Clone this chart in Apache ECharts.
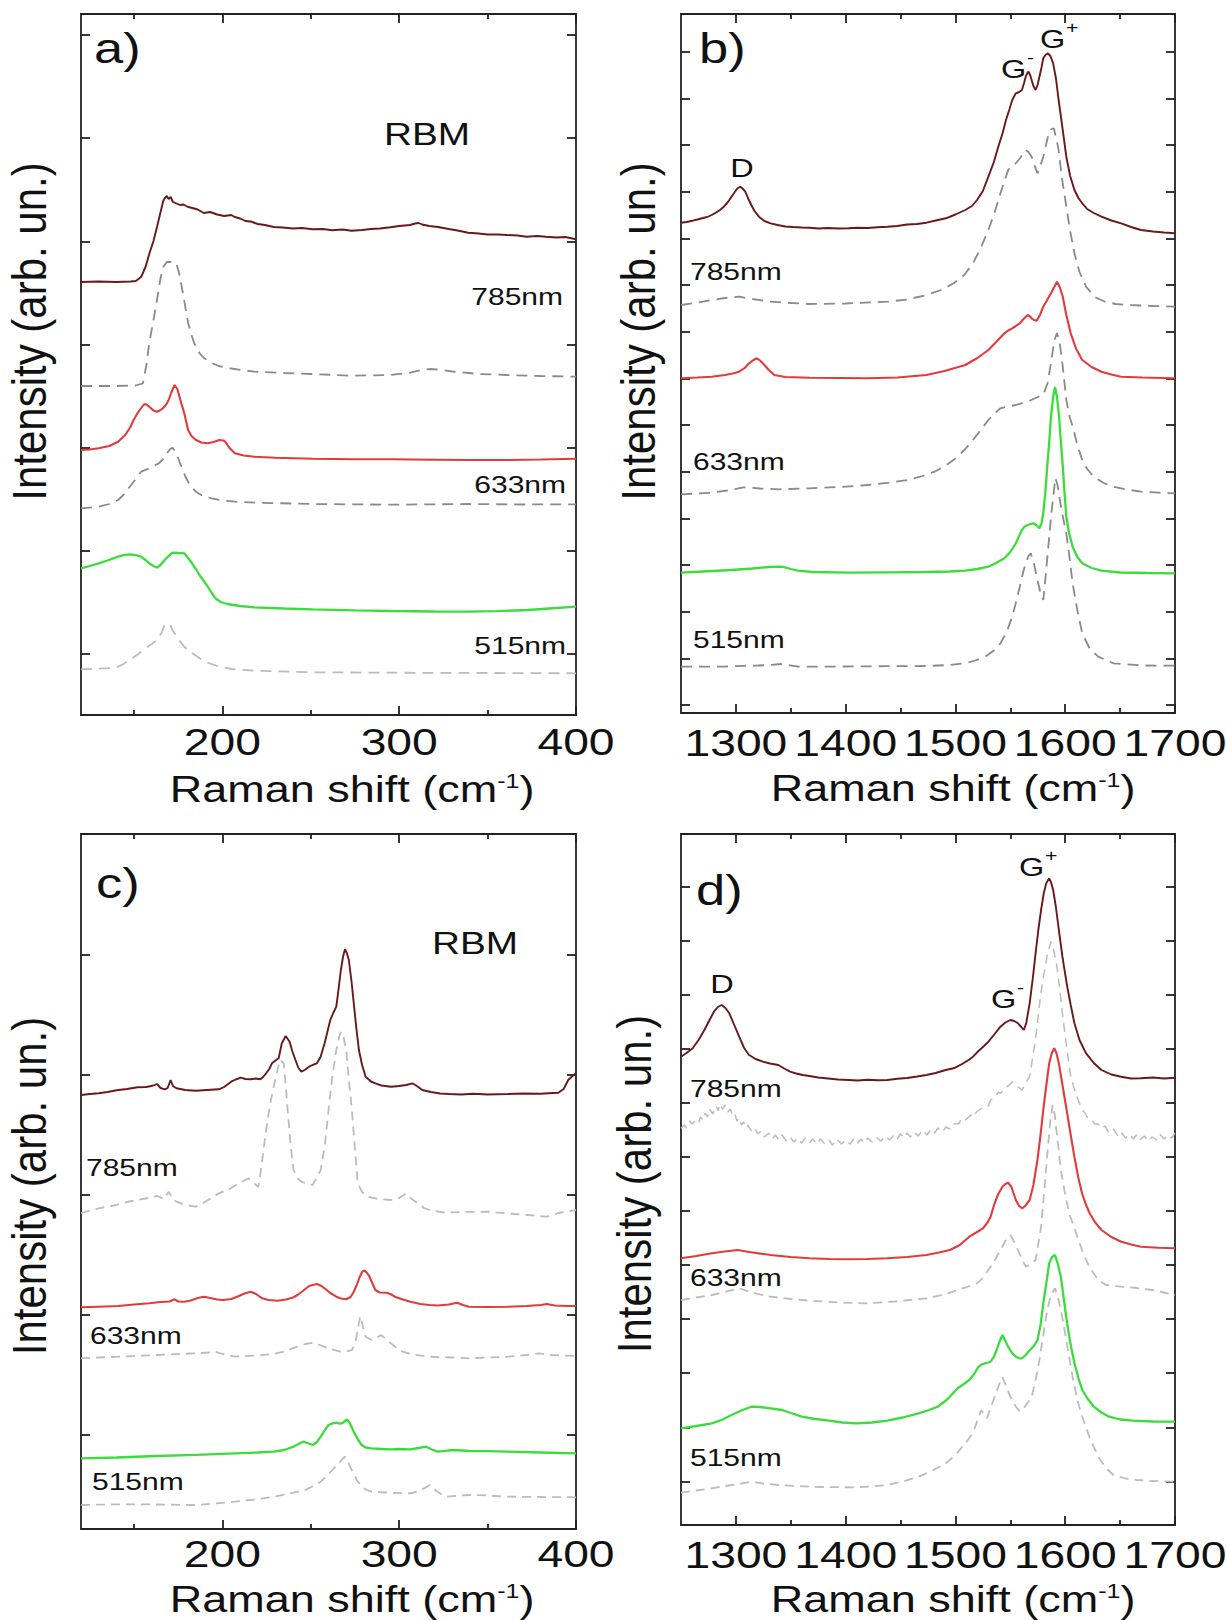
<!DOCTYPE html>
<html><head><meta charset="utf-8">
<script src="https://cdn.jsdelivr.net/npm/echarts@6/dist/echarts.min.js"></script>
<style>html,body{margin:0;padding:0;background:#fff}#c{width:1226px;height:1620px}</style>
</head><body><div id="c"></div>
<script>
// ---------- tick values ----------
const xMajorRBM = [200, 300, 400];
const xMinorRBM = [150, 250, 350];
const xMajorG = [1300, 1400, 1500, 1600, 1700];
const xMinorG = [1350, 1450, 1550, 1650];
const yTicksA = [61, 164, 267, 370, 473, 577, 680];
const yTicksB = [8, 54.7, 101.3, 148, 194.7, 241.3, 288, 334.7, 381.3, 428, 474.7, 521.3, 568, 614.7, 661.3];
const yTicksC = [94, 214, 334, 454, 574];
const yTicksD = [43, 97, 152, 206, 260, 314, 368, 422, 476, 530, 584, 638.3];

// ---------- panel a (RBM) ----------
const a785 = [[120,433],[130,433.5],[140,433],[148,433.5],[151,434],[154,438],[156.5,448],[158.6,461],[161,474],[163,488],[165,503],[166.5,514],[167.5,517],[168.5,519],[169.5,516],[170.7,518],[172,513],[174,511.5],[176,510],[178,510.5],[180.6,508],[183,507],[186,505.5],[189.5,502],[193,503],[197,500.5],[201,499],[205,500],[207,498],[210,496.5],[213,494],[216,493.5],[220,491],[224,490],[229,488],[234,487.5],[240,486.5],[245,487],[251,485.7],[257,486],[262,484.8],[268,485.5],[273,484.3],[279,485],[284,486],[289,486.5],[295,487.7],[300,489],[306,490],[309,491.5],[311,492],[313,490.5],[317,489],[322,488],[328,486],[333,484.5],[339,482.3],[345,481.5],[350,480.5],[356,480.5],[361,480],[367,479.5],[372,478.3],[378,479],[383,478.3],[389,477.5],[394,478],[398,476.5],[400,475.7]];
const a785ref = [[120,329],[140,329],[151,329.5],[155,331.7],[157,350],[158.6,372],[161,395],[163,415],[165,437],[166.5,448],[168.5,453],[171,453],[174,451.7],[175.7,440],[177.3,425],[179,408],[180.6,392],[182.5,380],[184,372],[187,362],[189.5,357],[194,352],[198,349],[205,346.5],[218,343.3],[235,342],[251,341],[273,339.3],[295,340],[305,342],[312.6,345],[318,346],[324,345],[330,343.5],[335,342.7],[345,341],[361,340],[380,339],[400,338.3]];
const a633 = [[120,265],[125,265.5],[130,266.7],[136,269],[141,273.3],[145,280],[147.6,287],[149.8,295],[152,302],[155.3,310],[156.5,311],[158.6,308.3],[161,304.5],[163,303.3],[164.5,304.5],[166.3,306.7],[168,310],[169.6,315],[171,322],[172.9,330],[174.5,326],[176.2,315],[178.4,301.7],[180.6,285],[182.5,279],[185,275],[188,272.5],[191.7,271.7],[195,273],[198.3,275],[200.5,274.5],[201.6,273.3],[204,267],[207,261.7],[212,259.5],[218,258.3],[230,257.2],[251,256.3],[275,255.7],[295,255.7],[320,255.3],[340,255],[361,255],[380,255.5],[400,256.3]];
const a633ref = [[120,206.7],[130,208.3],[136,211],[141,215],[144,220],[147.6,228.3],[151,236],[154,243.3],[158.6,246.7],[161,249],[164,251.7],[166,255],[168.5,261.7],[170.5,266],[171.8,267.3],[173.5,263],[175,256.7],[177,247],[179.5,236.7],[182,229],[185,223.3],[189,219],[193.9,216.7],[200,214.5],[207,213.3],[220,212.3],[251,211],[295,210.3],[339,211],[370,210.5],[400,210.7]];
const a515 = [[120,146.7],[125,149],[130,151.7],[135,154.5],[141,158.3],[144,159.8],[147.6,160.7],[151,159.8],[154,158.3],[156.5,155],[158.6,151.7],[161,149],[163,147.3],[165,150],[167.4,155],[169.5,159],[171.8,162.3],[175,162],[178.4,161.7],[180.6,157],[182.8,151.7],[185,146],[187,140],[189.5,134],[191.7,128.3],[194,122],[196,116.7],[199,113],[202.7,111],[210,109],[218,107.7],[235,106.5],[251,105.7],[275,104.7],[295,104],[320,103.5],[339,103.3],[355,103.8],[372.5,105],[385,106.5],[400,108.3]];
const a515ref = [[120,45.7],[135,46.8],[141,48.3],[144,51],[147.6,55],[152,60.5],[156.4,66.7],[160,71],[163,75],[165.5,82],[167.4,90],[169,91.7],[170.5,90],[171.8,85],[175,76],[178.4,68.3],[182,63],[187,56.7],[192,52],[198.3,48.3],[205,46],[218,44.3],[251,42.7],[295,42.3],[350,42],[400,41.7]];

// ---------- panel b (D/G) ----------
const b785 = [[1250,490.3],[1255,491],[1260.6,492.3],[1265,493.5],[1270,495],[1274,496],[1278,498],[1282,500.5],[1285.5,503],[1289,506.3],[1292,510],[1294,513],[1296,516.3],[1299,521],[1301.5,524.7],[1304,526.3],[1306,524.5],[1308.6,521.3],[1311,515],[1314,508],[1317,502],[1321,496.3],[1326,492],[1331.6,489.7],[1338,488],[1345,486.5],[1352,486],[1360,485.5],[1367,485.3],[1375,484.5],[1384,485],[1393,484.5],[1402.6,484.7],[1411,485.2],[1420,485],[1429,485.8],[1438,486.3],[1447,487],[1456,488.5],[1465,489],[1473.6,490.3],[1482,492.5],[1491.3,494.7],[1500,498.5],[1509,503],[1515,507],[1519.7,513],[1525,522],[1530,536.3],[1535,551],[1539,566.3],[1543,580],[1546,593],[1549,603],[1551.7,613],[1555,619.7],[1558,621],[1560.6,623],[1562.5,630],[1564,636.3],[1565.5,640],[1566.6,641.3],[1568,638],[1569.4,633],[1571,627],[1573,623],[1574.8,628],[1576.5,636.3],[1578.5,646],[1580,654.7],[1582,658],[1584.3,659.7],[1586.5,657],[1589,649.7],[1591.5,635],[1594,613],[1597.5,585],[1601,556.3],[1604.5,537],[1608.4,523],[1612,515],[1615.5,509.7],[1620,504],[1626,500],[1633,496.3],[1642,492.5],[1651,489.7],[1660,486],[1669,483],[1680,481.5],[1690,480.5],[1700,479.7]];
const b785ref = [[1250,408],[1265,410.5],[1278,413],[1290,415],[1303,416.3],[1315,414],[1331.6,411.3],[1350,410],[1367,409],[1400,409.5],[1438,411.3],[1456,413.5],[1473.6,418],[1487,423],[1498.4,429.7],[1508,438],[1516,449.7],[1523,465],[1530,483],[1535.5,500],[1541,519.7],[1545,533],[1548,543],[1551,547],[1555,549.7],[1559,555],[1564,563],[1566.5,561],[1569.4,556.3],[1572,548],[1574.7,539.7],[1577,546],[1580,556.3],[1582.5,568],[1585,579.7],[1587.5,584],[1589.6,584.7],[1592,574],[1594,563],[1597,535],[1601,506.3],[1604.5,482],[1608.4,459.7],[1613,441],[1619,426.3],[1627,416],[1636.4,411.3],[1646,409],[1658,408],[1680,407],[1700,406.3]];
const b633 = [[1250,334.7],[1265,335.5],[1278,336.3],[1290,338],[1297,339.5],[1303,341.3],[1308,345],[1312,349.7],[1316,353],[1319,354.7],[1322,352.5],[1326,348],[1330,343],[1335,338],[1345,336],[1367,335.3],[1395,335],[1420,334.7],[1447,335.5],[1473.6,338],[1490,342],[1509,348],[1520,355],[1530,363],[1538,372],[1544.6,379.7],[1548,382.5],[1551.7,384.7],[1555,387],[1558.6,389.7],[1562,394],[1565.9,398],[1568,396.5],[1569.4,394.7],[1571.5,393],[1574,392.3],[1577,398],[1580,406.3],[1583.5,413],[1587,419.7],[1590,426],[1592.5,431.3],[1595,426],[1597.8,416.3],[1601,398],[1605,379.7],[1610,364],[1615.5,353],[1624,346],[1633,341.3],[1642,338.5],[1651,336.3],[1670,335.5],[1700,334.7]];
const b633ref = [[1250,218.7],[1264,219.5],[1278,220.3],[1292,222.5],[1307,225.7],[1322,224.5],[1339,223.7],[1367,224.7],[1395,226],[1420,228],[1440,230.5],[1456,233],[1470,237],[1481,241.3],[1492,248],[1502,256.3],[1509,264],[1516,273],[1523,283],[1530,293],[1536,300],[1541,304.7],[1548,306.5],[1555,308],[1562,310],[1569,313],[1575,316],[1580,318],[1584,330],[1587,350],[1590,372],[1592.5,380],[1595,370],[1597.8,346],[1601,313],[1604,296],[1607,286],[1611,268],[1615.5,253],[1620,244],[1626,236.3],[1635,230],[1644,226.3],[1656,223.5],[1669,221.3],[1685,220.3],[1700,219.7]];
const b515 = [[1250,140.3],[1270,141.5],[1296,143],[1315,144.5],[1330,146],[1342,146.3],[1350,144],[1356.5,142.3],[1370,141],[1402.6,140.3],[1440,140.7],[1473.6,141],[1495,141.5],[1509,142.3],[1520,144],[1530,146.3],[1537,150],[1544.6,154.7],[1550,161],[1555,169.7],[1558,177],[1560.6,183],[1563,186.5],[1566,188],[1568.5,189],[1571,189.7],[1573.5,188],[1576.5,184.7],[1578.5,190],[1580,199.7],[1582,222],[1583.6,246.3],[1585.5,272],[1587,296.3],[1589,316],[1590.7,326],[1592.5,316],[1594.4,296.3],[1596,272],[1597.8,246.3],[1599.5,218],[1601,196.3],[1603.5,180],[1606.7,166.3],[1611,156],[1615.5,149.7],[1624,145],[1633,142.3],[1650,140.5],[1675,140],[1700,139.7]];
const b515ref = [[1250,46.3],[1290,46.5],[1320,47.5],[1331.6,48],[1342,49],[1356.5,46.3],[1400,46.5],[1440,46.8],[1473.6,47],[1495,48],[1509,49.7],[1518,52.5],[1527,56.3],[1535,62.5],[1541,69.7],[1547,82],[1551.7,96.3],[1555,110],[1558.6,126.3],[1561.5,140],[1564,149.7],[1566.5,157],[1568.6,159.7],[1571,152],[1574.7,133],[1577.5,120],[1580,113],[1582,135],[1584.3,163],[1585.8,180],[1587,196.3],[1589,215],[1591,235],[1593,228],[1595,214],[1597.5,198],[1601,179.7],[1604,155],[1606.7,129.7],[1611,103],[1615.5,79.7],[1622,65],[1630,56.3],[1644,49.7],[1670,47.5],[1700,47.3]];

// ---------- panel c (RBM) ----------
const c785 = [[120,434],[125,435],[130,435.7],[135,437],[141,439],[146,440],[152,441.7],[157,442],[161,443.5],[163,445],[165,441],[167.4,439.7],[169,441],[170.7,449],[172,443],[174,440.7],[179,439],[185,438.3],[191,439],[198,439.7],[201,442],[204.9,447.3],[207.5,449.5],[210.4,451.3],[213,450],[216,449.7],[219,450.5],[221.4,449.7],[223,452],[224.7,455.7],[226.5,460],[228,465.7],[230,468.5],[231.8,470.7],[233.6,485.7],[235.8,493],[238,487.3],[239.5,478],[241.3,469],[243,461],[244.6,457.3],[246.5,459],[249,462.3],[251,464],[253.4,465.7],[255.5,472],[257.8,485.7],[259.5,498],[261,509],[262.7,516],[264.4,522.3],[265.7,540],[267,559],[268.2,572],[269.3,579.7],[270.4,576],[271.5,569],[273,548],[274.3,525.7],[275.8,500],[277.2,479],[279,464],[281,452.3],[284,447.5],[286.5,445.7],[290,443.5],[295.3,442.3],[300,443],[304,444],[307.4,445.7],[310,443],[313,439],[318,437],[323,435.5],[328.4,435],[335,434.5],[342,435.3],[350,434.5],[361.5,435],[370,435.5],[380,435.3],[387,436],[390,436.3],[393,440],[395.6,449],[398,453],[400,455.7]];
const c785ref = [[120,316],[130,320.7],[140,324],[146,327],[152,329],[158,331],[163,333],[167,330],[169.6,337.3],[172,330],[174,327.3],[179,324],[185,322.3],[191,328],[198,335.7],[204,340],[209.3,345.7],[212,348],[214.8,350.7],[217,347],[220.3,342.3],[221.5,355],[222.5,369],[224.7,399],[227,425],[229,442.3],[231,458],[232.5,469],[234.7,465.7],[236,440],[236.9,419],[238.5,385],[240.2,359],[242.5,351],[244.6,347.3],[248,345.5],[251,344],[253,350],[255.6,359],[258,385],[260,419],[262,450],[264.4,479],[266,492],[267,497.3],[268.5,492],[270,479],[271.5,450],[273.2,419],[275,380],[276.5,345.7],[279,337],[282,332.3],[288,330],[295.3,329],[300,331],[304,335.7],[307,330],[310.7,325.7],[314,321],[317,319],[325,316.5],[335,317],[350.4,317.3],[365,315],[372.5,314],[378,313],[383.5,312.3],[390,316],[400,319]];
const c633 = [[120,221.7],[130,222.3],[141,223],[150,224.5],[158.6,225.7],[165,227],[170,227.5],[172.9,229.7],[175,227.5],[178.4,227.3],[182,228.5],[186,231],[189.5,232.3],[193,231],[197,229.5],[200.5,229],[205,230],[209.3,233],[212.5,235.5],[216,237.3],[219,235],[222.5,230.7],[226,229],[231.3,228.3],[236,229.5],[240,231.5],[242.4,234],[245.5,238],[249,243],[251,244],[253.4,245],[256,243],[257.8,240.7],[261,236],[264.4,232.3],[267,230.5],[270,229.7],[272.5,232],[274.3,237.3],[276,244],[277.7,252.3],[279.2,257.5],[280.5,258.5],[281.8,256],[283.2,252.3],[285,245],[286.5,239],[289,236.5],[293,236.3],[295.5,234.5],[297.5,232.3],[302,229.5],[306.3,227.3],[312,225],[317,224],[322,223.5],[328,224.5],[332.8,226.3],[336,224],[339.4,222.3],[350,222],[361.5,222.3],[372,223],[380,224],[383.5,225],[388,223.5],[395,223],[400,223]];
const c633ref = [[120,170.7],[141,172.3],[163,174],[185,175.7],[192,176.5],[196,177.3],[200,175],[207,172.3],[220,173.5],[229,175],[236,178],[242.4,182.3],[247,185],[251.2,186.3],[255,184],[260,180.7],[266.6,177.3],[270,177.5],[273.2,179],[275,185],[275.8,192.3],[277,204],[278,213],[279.3,204],[281,192.3],[284.3,189],[287,191],[289.8,194],[292.5,190],[295.3,185.7],[298.5,181],[302,177.3],[308,174.5],[317,172.3],[330,171.5],[339.4,170.7],[350,171.5],[361.5,172.3],[372,174],[379,175.7],[386,174],[400,173]];
const c515 = [[120,70.7],[140,71.5],[163,73],[185,74.2],[207,75.7],[220,76.5],[229,77.3],[235,79],[240.2,82.3],[243,85],[245.7,87.3],[248,86],[251.2,84],[253.5,87],[255.6,92.3],[258,99],[260,104],[262,105.5],[264.4,106.3],[266,105.5],[267.7,105.7],[269,107.5],[270.5,109.7],[272,106],[274.3,97.3],[276.5,90],[278.7,84],[281,81.5],[284.3,80.7],[290,80],[295.3,79.7],[300,80],[306.3,79.7],[311,81],[315.2,82.3],[318.5,79.5],[321.8,77.3],[326,78.2],[330.6,79],[340,78],[350,77.8],[361.5,77.3],[380,76.5],[400,75.7]];
const c515ref = [[120,24],[141,24.7],[163,24.5],[185,24],[196,25.5],[207,27.3],[218,29.5],[229,32.3],[238,35.5],[246.8,39],[251,42.5],[255.6,47.3],[259,53],[262.2,59],[264.5,63.5],[266.6,67.3],[268,70.5],[269.3,72.3],[271,67],[273.2,59],[276,49],[278.7,42.3],[281.5,39],[284.3,37.3],[295,36.3],[306.3,35.7],[312,38.5],[317.3,44],[321,38],[326,32.3],[332,33.2],[339.4,34],[350,33.5],[361.5,32.3],[380,32],[400,31.7]];

// ---------- panel d (D/G) ----------
const d785 = [[1250,468.3],[1255,472],[1260.6,476.7],[1266,485],[1271.3,495],[1276,505],[1280,513.3],[1283.5,518],[1287,520],[1290.5,517],[1294,511.7],[1298.5,500],[1303,488.3],[1307.5,477],[1312,470],[1318,466],[1324.5,463.3],[1331,461.5],[1338.7,460],[1344,456.5],[1349.4,453.3],[1355,451.5],[1361,450],[1367,449],[1375,447.5],[1384,446.5],[1393,445.5],[1402.6,445],[1411,444.5],[1420,445.3],[1429,444.8],[1438,445],[1447,446.3],[1456,447],[1465,448.5],[1473.6,450],[1482,452],[1491,455],[1498.4,456.7],[1506,461],[1512,465],[1516,468.3],[1521,474],[1526,479],[1530,483.3],[1535,490],[1541,498.3],[1545.5,502.5],[1550,505],[1553.5,504],[1557,501.7],[1560,498],[1562.3,495],[1564.5,502],[1567.6,521.7],[1570.5,547],[1573,571.7],[1575.5,595],[1578,615],[1580.5,632],[1582.7,641.7],[1585.4,646.7],[1587,643],[1589,635],[1591.5,618],[1594.2,595],[1597.5,568],[1601.3,541.7],[1605,520],[1608.4,501.7],[1613,485],[1619,471.7],[1626,462],[1633,455],[1642,450.5],[1651,448.3],[1660,446.5],[1668.8,446.7],[1680,447.5],[1690,446.5],[1700,447.3]];
const d785ref = [[1250,396.7],[1253,400],[1255,397],[1258,404],[1260,401],[1263.5,405],[1266,402],[1267.7,408],[1270,405],[1272,412],[1274,408],[1276,416],[1279,411],[1282,419],[1284,414],[1285,421],[1288,416],[1290,420],[1292.6,413],[1295,416],[1297,409],[1299,411],[1301,404],[1303,407],[1305,400],[1307,403],[1309,397],[1311,400],[1314,394],[1317.4,397],[1320,391],[1323,394],[1326,388],[1330,392],[1333,386],[1336,390],[1339,385],[1342,390],[1346,384],[1349.4,388],[1353,383],[1356,387],[1360,382],[1363,387],[1367,382],[1370,386],[1374,381],[1377,386],[1381,381],[1384.9,385],[1388,380],[1392,386],[1396,381],[1400,385],[1404,381],[1408,387],[1411,382],[1414,386],[1417,382],[1420,387],[1424,383],[1428,388],[1432,384],[1436,389],[1440,385],[1444,390],[1447,386],[1450,391],[1453,387],[1455.8,392],[1459,388],[1462,393],[1466,389],[1470,395],[1474,390],[1478,396],[1481,392],[1484,397],[1488,393],[1491.3,398],[1495,396],[1498,401],[1503,401.5],[1506,407],[1509,405],[1514,410],[1517,408],[1519,413],[1523,416],[1527,419],[1530,419.5],[1532,425],[1536,427],[1539,433],[1541,431.7],[1545,437],[1548,439],[1551.7,443],[1555,440],[1558,437.5],[1560.6,435],[1563,440],[1565,444],[1567.6,448.3],[1570,465],[1572.5,483],[1574.7,501.7],[1577,524],[1579.5,545],[1581.8,558.3],[1584,572],[1587,583.3],[1589.5,575],[1592.5,558.3],[1595,536],[1597.8,508.3],[1601,480],[1605,448.3],[1610,430],[1615.5,415],[1618,412],[1621,406],[1624,405],[1627,401],[1630,401],[1633,396.7],[1636,399],[1640,392],[1644,396],[1648,389],[1651,393],[1655,387],[1658,391],[1662,386],[1665,390],[1668,385],[1672,389],[1676,384],[1679.4,388],[1683,385],[1686,391],[1690,386],[1694,390],[1697,387],[1700,392]];
const d633 = [[1250,266.7],[1264,269],[1278,271.7],[1290,273.5],[1301.5,275],[1312,273],[1331.6,270],[1350,268],[1367,266.7],[1385,266],[1402.6,265.7],[1420,266],[1438,266.7],[1456,268],[1473.6,270],[1485,272.5],[1494.9,275],[1504,280],[1512.6,288.3],[1519,292.5],[1525,296.7],[1529,302],[1532,308.3],[1535.7,321.7],[1539,331],[1542.8,338.3],[1545.5,341],[1548,342.3],[1551,338],[1555,325],[1558,319],[1560.6,316.7],[1563.5,319],[1567.6,325],[1571,340],[1574.7,365],[1577.5,390],[1580,415],[1582.8,440],[1585.4,461.7],[1587.8,472],[1590,476.7],[1592,472],[1594.2,461.7],[1597.5,440],[1601.3,415],[1605,390],[1608.4,368],[1612,347],[1615.5,331],[1619,320],[1622.6,311],[1627,303],[1633,295],[1642,288],[1651,283.3],[1660,280.5],[1669,278.3],[1685,277.3],[1700,276.7]];
const d633ref = [[1250,225],[1264,227.5],[1278,230],[1290,233],[1303,236.7],[1316,232],[1331.6,228.3],[1350,226],[1367,224.3],[1395,222.5],[1420,221.7],[1445,223.5],[1473.6,226.7],[1490,230.5],[1502,235],[1512,238.5],[1519.7,241.7],[1525,247],[1530,255],[1535.5,264],[1541,275],[1545.5,284],[1550,290],[1553.5,283],[1557,275],[1560.5,266],[1564,258.3],[1568,260],[1573,265],[1576,285],[1578,298],[1581,335],[1584,375],[1586.5,405],[1588.5,420],[1590.5,410],[1593,385],[1596,355],[1600,330],[1604,310],[1608,298],[1612,285],[1617,270],[1622,258],[1630,245],[1637,240],[1651,238.3],[1665,237],[1679.4,235],[1690,232.5],[1700,230]];
const d515 = [[1250,96.7],[1264,99],[1278,101.7],[1287,105],[1296,110],[1305,114.5],[1314,118.3],[1322,118],[1331.6,116.7],[1342,115],[1350,112],[1360,108.3],[1372,106],[1384.9,104.3],[1397,102.5],[1409.7,101.7],[1424,102.5],[1438,104.3],[1452,107.5],[1466.5,111.7],[1476,115],[1484,118.3],[1493,126],[1502,136.7],[1507,140.5],[1512.6,145],[1517,151],[1521,158.3],[1524,160.5],[1527,161.7],[1530,162.5],[1532,163.3],[1535,168],[1537.5,175],[1540,183],[1542.8,190],[1545.5,184],[1548,178.3],[1551.5,172],[1555,168.3],[1558,166.7],[1560.6,166.7],[1564,170],[1567,174],[1569.5,176.7],[1572,180],[1574.7,185],[1577.5,200],[1580,221.7],[1582.8,242],[1585.4,261.7],[1588,268],[1590.7,270],[1593,262],[1596,248.3],[1598.5,228],[1601.3,205],[1604.5,183],[1608.4,161.7],[1612,147],[1615.5,135],[1620,127],[1626,118.3],[1633,112.5],[1640,108.3],[1650,105.5],[1661.7,104.3],[1680,103.5],[1700,103.3]];
const d515ref = [[1250,32.3],[1264,34.5],[1278,36.7],[1296,40],[1314,43.3],[1325,41.5],[1338.7,40],[1367,38.3],[1390,37.8],[1409.7,37.7],[1424,38.5],[1438,40],[1452,43.5],[1466.5,48.3],[1480,55],[1491.3,61.7],[1500,70],[1509,81.7],[1514,89],[1518,98.3],[1521,107],[1523.4,115],[1526,111],[1528.7,106.7],[1532,117],[1535.7,128.3],[1539,138],[1542.8,148.3],[1546.5,138],[1550,128.3],[1554,120],[1558.6,113.3],[1563,118],[1569.5,128.3],[1573,145],[1576.5,165],[1580,190],[1583.6,215],[1587,230],[1590.7,236.7],[1594,225],[1597.8,205],[1602,178],[1606.7,148.3],[1611,125],[1615.5,108.3],[1622,88],[1630,68.3],[1637,57],[1644,50],[1655,46.5],[1665,45],[1680,44],[1700,43.3]];

// ---------- styling ----------
const C785 = '#6a181b', C633 = '#e23b3d', C515 = '#3ddc3d', DG = '#8a8a8a', LG = '#bcbcbc';
const AX = '#222';
const FONT = '"Liberation Sans", Arial, Helvetica, sans-serif';
const SX = 1.25;

const chart = echarts.init(document.getElementById('c'), null, {renderer: 'svg', width: 1226, height: 1620});

const grids = [
  {left: 81, top: 14, width: 495, height: 701},
  {left: 681, top: 14, width: 494, height: 699},
  {left: 81, top: 834, width: 495, height: 695},
  {left: 681, top: 834, width: 494, height: 691}
];
const xr = [[120, 400, xMajorRBM, xMinorRBM], [1250, 1700, xMajorG, xMinorG], [120, 400, xMajorRBM, xMinorRBM], [1250, 1700, xMajorG, xMinorG]];
const yr = [[701, yTicksA], [699, yTicksB], [695, yTicksC], [691, yTicksD]];

const lineS = {color: AX, width: 1.8};
const xAxis = [], yAxis = [];
xr.forEach(([min, max, maj, mnr], g) => {
  const base = {type: 'value', gridIndex: g, min, max, splitLine: {show: false}, axisLabel: {show: false}};
  xAxis.push(Object.assign({}, base, {position: 'bottom', axisLine: {show: true, onZero: false, lineStyle: lineS}, axisTick: {show: true, inside: true, length: 9, customValues: maj, lineStyle: lineS}}));
  xAxis.push(Object.assign({}, base, {position: 'bottom', axisLine: {show: false, onZero: false}, axisTick: {show: true, inside: true, length: 5, customValues: mnr, lineStyle: lineS}}));
  xAxis.push(Object.assign({}, base, {position: 'top', axisLine: {show: true, onZero: false, lineStyle: lineS}, axisTick: {show: true, inside: true, length: 9, customValues: maj, lineStyle: lineS}}));
  xAxis.push(Object.assign({}, base, {position: 'top', axisLine: {show: false, onZero: false}, axisTick: {show: true, inside: true, length: 5, customValues: mnr, lineStyle: lineS}}));
});
yr.forEach(([max, ticks], g) => {
  const base = {type: 'value', gridIndex: g, min: 0, max, splitLine: {show: false}, axisLabel: {show: false},
    axisLine: {show: true, onZero: false, lineStyle: lineS}, axisTick: {show: true, inside: true, length: 9, customValues: ticks, lineStyle: lineS}};
  yAxis.push(Object.assign({}, base, {position: 'left'}));
  yAxis.push(Object.assign({}, base, {position: 'right'}));
});

function S(name, data, g, color, width, dash, z) {
  return {name, type: 'line', xAxisIndex: 4 * g, yAxisIndex: 2 * g, data, symbol: 'none', showSymbol: false,
    animation: false, silent: true, z, lineStyle: {color, width, type: dash || 'solid'}};
}
const DASH = [11, 7], DASH2 = [9, 6];
const series = [
  S('a 785 ref', a785ref, 0, DG, 1.8, DASH, 2), S('a 633 ref', a633ref, 0, DG, 1.8, DASH, 2), S('a 515 ref', a515ref, 0, LG, 1.8, DASH, 2),
  S('a 785nm', a785, 0, C785, 1.9, null, 3), S('a 633nm', a633, 0, C633, 2.1, null, 3), S('a 515nm', a515, 0, C515, 2.3, null, 3),
  S('b 785 ref', b785ref, 1, DG, 1.8, DASH, 2), S('b 633 ref', b633ref, 1, DG, 1.8, DASH, 2), S('b 515 ref', b515ref, 1, DG, 1.8, DASH, 2),
  S('b 785nm', b785, 1, C785, 1.9, null, 3), S('b 633nm', b633, 1, C633, 2.1, null, 3), S('b 515nm', b515, 1, C515, 2.3, null, 3),
  S('c 785 ref', c785ref, 2, LG, 1.8, DASH2, 2), S('c 633 ref', c633ref, 2, LG, 1.8, DASH2, 2), S('c 515 ref', c515ref, 2, LG, 1.8, DASH2, 2),
  S('c 785nm', c785, 2, C785, 1.9, null, 3), S('c 633nm', c633, 2, C633, 2.1, null, 3), S('c 515nm', c515, 2, C515, 2.3, null, 3),
  S('d 785 ref', d785ref, 3, LG, 1.5, DASH2, 2), S('d 633 ref', d633ref, 3, LG, 1.8, DASH2, 2), S('d 515 ref', d515ref, 3, LG, 1.8, DASH2, 2),
  S('d 785nm', d785, 3, C785, 1.9, null, 3), S('d 633nm', d633, 3, C633, 2.1, null, 3), S('d 515nm', d515, 3, C515, 2.3, null, 3)
];

chart.setOption({animation: false, backgroundColor: '#fff', grid: grids, xAxis, yAxis, series});

// ---------- texts ----------
function T(text, x, base, size, align, extra) {
  const st = {text, font: size + 'px ' + FONT, fill: '#111', align: align || 'left', textAlign: align || 'left', verticalAlign: 'middle', textVerticalAlign: 'middle'};
  return Object.assign({type: 'text', x, y: base - 0.35 * size, scaleX: SX, silent: true, z: 100, style: st}, extra || {});
}
function YT(x, cy) {
  return {type: 'text', x, y: cy, rotation: Math.PI / 2, scaleY: 1.14, silent: true, z: 100,
    style: {text: 'Intensity (arb. un.)', font: '42px ' + FONT, fill: '#111', align: 'center', textAlign: 'center', verticalAlign: 'middle', textVerticalAlign: 'middle'}};
}
function XT(cx, base) {
  const size = 36;
  return {type: 'text', x: cx, y: base - 0.35 * size, scaleX: SX, silent: true, z: 100,
    style: {text: 'Raman shift (cm{s|-1})', font: size + 'px ' + FONT, fill: '#111', align: 'center', textAlign: 'center', verticalAlign: 'middle', textVerticalAlign: 'middle',
      rich: {s: {fontSize: 20, fontFamily: FONT, fill: '#111', verticalAlign: 'top'}}}};
}
const els = [];
// tick labels positioned through the axis scale
const tickBase = [755, 756, 1567, 1568];
xr.forEach(([min, max, maj], g) => {
  maj.forEach(v => {
    const px = chart.convertToPixel({xAxisIndex: 4 * g}, v);
    els.push(T(String(v), px, tickBase[g], 37, 'center'));
  });
});
els.push(XT(352, 802), XT(953, 801), XT(352, 1612), XT(953, 1612));
els.push(YT(30, 331.5), YT(639, 331.5), YT(30, 1186), YT(635, 1184));
// panel letters
els.push(T('a)', 94, 63, 42), T('b)', 699, 63, 42), T('c)', 96, 898, 42), T('d)', 696, 905, 42));
els.push(T('RBM', 427, 145, 31, 'center'), T('RBM', 475, 954, 31, 'center'));
// laser labels
els.push(T('785nm', 563, 305, 24, 'right'), T('633nm', 566, 493, 24, 'right'), T('515nm', 566, 654, 24, 'right'));
els.push(T('785nm', 690, 280, 24), T('633nm', 693, 470, 24), T('515nm', 693, 648, 24));
els.push(T('785nm', 86, 1176, 24), T('633nm', 90, 1344, 24), T('515nm', 92, 1490, 24));
els.push(T('785nm', 690, 1097, 24), T('633nm', 690, 1286, 24), T('515nm', 690, 1466, 24));
// peak labels
els.push(T('D', 742, 177, 26, 'center'), T('G', 1001, 78, 26), T('-', 1027, 63, 17), T('G', 1040, 48, 26), T('+', 1066, 33, 17));
els.push(T('D', 722, 993, 26, 'center'), T('G', 991, 1008, 26), T('-', 1017, 993, 17), T('G', 1019, 876, 26), T('+', 1045, 861, 17));

chart.setOption({graphic: {elements: els}});
</script>
</body></html>
